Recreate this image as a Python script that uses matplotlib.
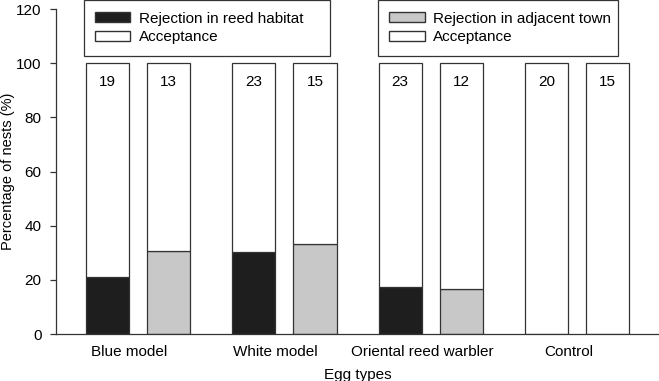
import numpy as np
import matplotlib
matplotlib.use("Agg")
import matplotlib.pyplot as plt
from matplotlib.patches import Patch

plt.rcParams['font.family'] = ['Liberation Sans', 'DejaVu Sans']

groups = ["Blue model", "White model", "Oriental reed warbler", "Control"]
reed_reject = [21.1, 30.4, 17.4, 0.0]    # % rejection, reed habitat
town_reject = [30.8, 33.3, 16.7, 0.0]    # % rejection, adjacent town
reed_n = [19, 23, 23, 20]
town_n = [13, 15, 12, 15]

x = np.arange(len(groups))
off = 0.209
w = 0.295
edge = "#333333"

fig = plt.figure(figsize=(6.59, 3.81), dpi=100)
ax = fig.add_axes([0.085, 0.123, 0.915, 0.853])

reed_acc = [100 - v for v in reed_reject]
town_acc = [100 - v for v in town_reject]

ax.bar(x - off, reed_reject, w, color="#1e1e1e", edgecolor=edge, linewidth=0.9)
ax.bar(x - off, reed_acc, w, bottom=reed_reject, color="white", edgecolor=edge, linewidth=0.9)
ax.bar(x + off, town_reject, w, color="#c8c8c8", edgecolor=edge, linewidth=0.9)
ax.bar(x + off, town_acc, w, bottom=town_reject, color="white", edgecolor=edge, linewidth=0.9)

for i in range(len(groups)):
    ax.text(x[i] - off, 93, str(reed_n[i]), ha="center", va="center", fontsize=11)
    ax.text(x[i] + off, 93, str(town_n[i]), ha="center", va="center", fontsize=11)

ax.set_xlim(-0.56, 3.56)
ax.set_ylim(0, 120)
ax.set_yticks(range(0, 121, 20))
ax.set_xticks(x - 0.06)
ax.set_xticklabels(groups)
ax.tick_params(axis="x", length=0, pad=8, labelsize=11)
ax.tick_params(axis="y", length=4, width=0.9, pad=6.5, labelsize=11, color=edge)
for s in ["top", "right"]:
    ax.spines[s].set_visible(False)
for s in ["left", "bottom"]:
    ax.spines[s].set_color(edge)
    ax.spines[s].set_linewidth(0.9)

ax.set_xlabel("Egg types", fontsize=11, labelpad=6)
ax.set_ylabel("Percentage of nests (%)", fontsize=10.5)
ax.yaxis.set_label_coords(-0.068, 0.5)

h1 = [Patch(facecolor="#1e1e1e", edgecolor=edge, label="Rejection in reed habitat"),
      Patch(facecolor="white", edgecolor=edge, label="Acceptance")]
h2 = [Patch(facecolor="#c8c8c8", edgecolor=edge, label="Rejection in adjacent town"),
      Patch(facecolor="white", edgecolor=edge, label="Acceptance")]
leg_kw = dict(loc="upper left", mode="expand", borderaxespad=0, fontsize=11,
              fancybox=False, edgecolor=edge, framealpha=1,
              handlelength=2.3, handleheight=0.6, handletextpad=0.55,
              labelspacing=0.3, borderpad=0.75)
lg1 = ax.legend(handles=h1, bbox_to_anchor=(0.046, 0.86, 0.408, 0.168), **leg_kw)
lg1.get_frame().set_linewidth(0.9)
ax.add_artist(lg1)
lg2 = ax.legend(handles=h2, bbox_to_anchor=(0.534, 0.86, 0.398, 0.168), **leg_kw)
lg2.get_frame().set_linewidth(0.9)

fig.savefig("out.png", dpi=100)
